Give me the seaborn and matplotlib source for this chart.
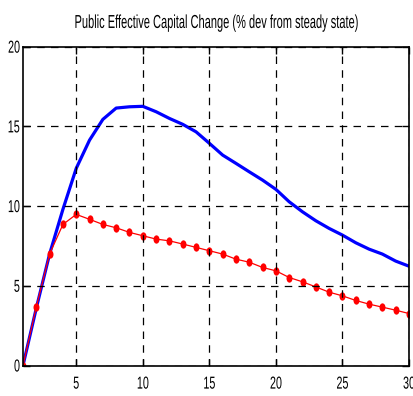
import matplotlib
matplotlib.use("Agg")
import matplotlib.pyplot as plt
import seaborn as sns
import pandas as pd
import numpy as np
from matplotlib.patheffects import AbstractPathEffect
from matplotlib.transforms import Affine2D
from matplotlib.path import Path

periods = list(range(1, 31))
blue_series = [0.0, 3.6, 7.0, 9.8, 12.37, 14.14, 15.44, 16.15, 16.23, 16.26,
               15.92, 15.5, 15.13, 14.66, 13.94, 13.2, 12.68, 12.15, 11.63, 11.05,
               10.27, 9.64, 9.08, 8.6, 8.18, 7.7, 7.3, 6.99, 6.55, 6.23]
red_series = [0.0, 3.68, 7.0, 8.85, 9.48, 9.17, 8.85, 8.64, 8.35, 8.14,
              7.93, 7.82, 7.62, 7.41, 7.2, 6.99, 6.67, 6.48, 6.15, 5.94,
              5.52, 5.25, 4.93, 4.6, 4.37, 4.08, 3.85, 3.66, 3.47, 3.26]
x_ticks = [5, 10, 15, 20, 25, 30]
y_ticks = [0, 5, 10, 15, 20]
title = "Public Effective Capital Change (% dev from steady state)"


class Condense(AbstractPathEffect):
    """Squeeze rendered text horizontally about a chosen anchor of its ink box."""

    def __init__(self, factor, anchor="center"):
        super().__init__()
        self.factor = factor
        self.anchor = anchor

    def draw_path(self, renderer, gc, tpath, affine, rgbFace=None):
        ext = tpath.get_extents(affine)
        if self.anchor == "right":
            cx = ext.x1
        elif self.anchor == "left":
            cx = ext.x0
        else:
            cx = 0.5 * (ext.x0 + ext.x1)
        squeeze = Affine2D().translate(-cx, 0).scale(self.factor, 1).translate(cx, 0)
        renderer.draw_path(gc, tpath, affine + squeeze, rgbFace)


sns.set_theme(style="white")
plt.rcParams["font.family"] = ["Liberation Sans", "DejaVu Sans"]

df = pd.DataFrame({"period": periods, "blue": blue_series, "red": red_series})

# tall oval dot used for the red series
circle = Path.unit_circle()
oval = Path(circle.vertices * np.array([0.72, 1.0]), circle.codes)

fig = plt.figure(figsize=(4.14, 3.96), dpi=100)
ax = fig.add_axes([23 / 414, 1 - 365.5 / 396, (409 - 23) / 414, (365.5 - 46.7) / 396])

sns.lineplot(data=df, x="period", y="blue", ax=ax, color="#0000ff", linewidth=2.3)
sns.lineplot(data=df, x="period", y="red", ax=ax, color="#ff0000", linewidth=0.9,
             marker=oval, markersize=6, markeredgewidth=0, markerfacecolor="#ff0000")

ax.set_xlim(1, 30)
ax.set_ylim(0, 20)
ax.set_xticks(x_ticks)
ax.set_yticks(y_ticks)
ax.set_xlabel("")
ax.set_ylabel("")
t = ax.set_title(title, fontsize=13.5, color="black", pad=13.5)
t.set_path_effects([Condense(0.59, "center")])

ax.grid(True, color="black", linestyle=(0, (6, 5)), linewidth=0.9)
ax.set_axisbelow(False)
for spine in ax.spines.values():
    spine.set_visible(True)
    spine.set_color("black")
    spine.set_linewidth(1.2)
ax.tick_params(direction="in", length=5, width=1, colors="black", labelsize=12.5,
               top=True, right=True, bottom=True, left=True)
ax.tick_params(axis="x", pad=8)
ax.tick_params(axis="y", pad=2)

for lab in ax.get_xticklabels():
    lab.set_path_effects([Condense(0.62, "center")])
for lab in ax.get_yticklabels():
    lab.set_path_effects([Condense(0.62, "right")])

fig.savefig("out.png", dpi=100, facecolor="white")
